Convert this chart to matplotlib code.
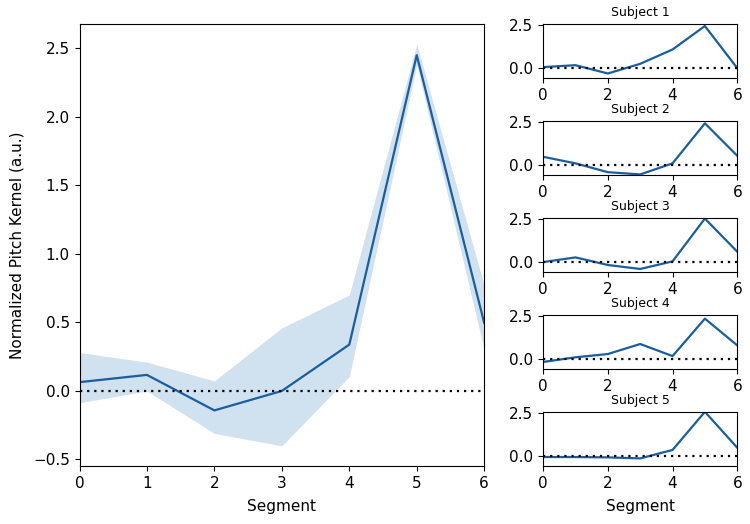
import matplotlib
matplotlib.use("Agg")
import matplotlib.pyplot as plt
import numpy as np

segments = [0, 1, 2, 3, 4, 5, 6]
mean_kernel = [0.064, 0.117, -0.142, 0.0, 0.338, 2.45, 0.497]
upper_band = [0.28, 0.21, 0.073, 0.46, 0.70, 2.53, 0.77]
lower_band = [-0.086, 0.0, -0.31, -0.40, 0.105, 2.38, 0.30]

subject_names = ["Subject 1", "Subject 2", "Subject 3", "Subject 4", "Subject 5"]
subject1 = [0.08, 0.19, -0.29, 0.27, 1.10, 2.46, 0.02]
subject2 = [0.50, 0.12, -0.39, -0.52, 0.12, 2.44, 0.56]
subject3 = [0.02, 0.29, -0.15, -0.38, 0.06, 2.54, 0.62]
subject4 = [-0.15, 0.12, 0.31, 0.89, 0.19, 2.36, 0.81]
subject5 = [-0.04, -0.04, -0.06, -0.12, 0.37, 2.58, 0.50]
subjects = [subject1, subject2, subject3, subject4, subject5]

line_color = "#1a5e9e"
band_color = "#d0e1ef"

plt.rcParams["font.size"] = 11

fig = plt.figure(figsize=(7.5, 5.24), dpi=100)
gs = fig.add_gridspec(5, 2, width_ratios=[404.5, 194], left=0.106, right=0.983,
                      top=0.954, bottom=0.111, wspace=0.197, hspace=0.8)

ax = fig.add_subplot(gs[:, 0])
ax.fill_between(segments, lower_band, upper_band, color=band_color, linewidth=0)
ax.plot(segments, mean_kernel, color=line_color, linewidth=1.6)
ax.axhline(0, color="black", linestyle=(0, (1, 2.2)), linewidth=1.6)
ax.set_xlim(0, 6)
ax.set_yticks([-0.5, 0.0, 0.5, 1.0, 1.5, 2.0, 2.5])
ax.set_xticks(segments)
ax.set_xlabel("Segment", labelpad=6)
ax.set_ylabel("Normalized Pitch Kernel (a.u.)", labelpad=6)

for i, (name, vals) in enumerate(zip(subject_names, subjects)):
    sax = fig.add_subplot(gs[i, 1])
    sax.plot(segments, vals, color=line_color, linewidth=1.6)
    sax.axhline(0, color="black", linestyle=(0, (1, 2.2)), linewidth=1.6)
    sax.set_xlim(0, 6)
    sax.set_ylim(-0.55, 2.57)
    sax.set_xticks([0, 2, 4, 6])
    sax.set_yticks([0.0, 2.5])
    sax.set_title(name, fontsize=9, pad=6)
    if i == 4:
        sax.set_xlabel("Segment", labelpad=6)

fig.savefig("out.png", dpi=100)
